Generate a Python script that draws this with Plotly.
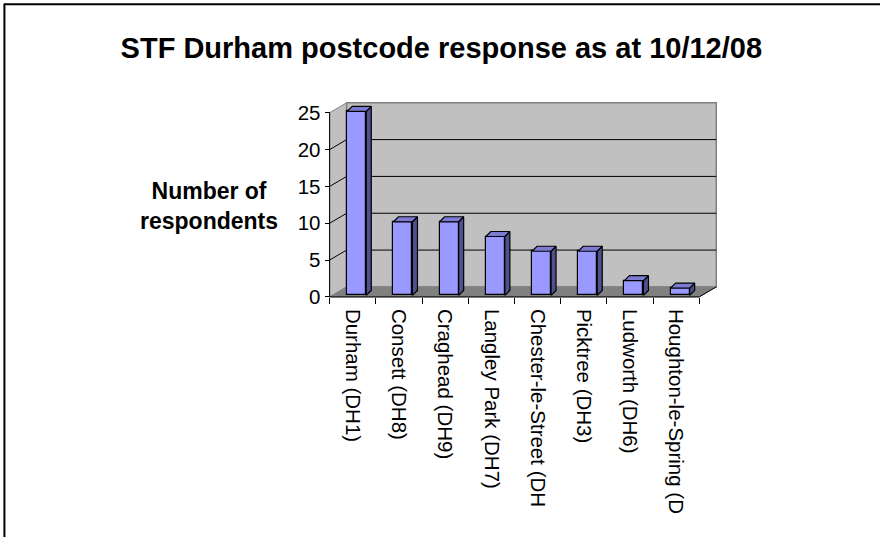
import plotly.graph_objects as go

# ---- data ----
categories = ["Durham (DH1)", "Consett (DH8)", "Craghead (DH9)", "Langley Park (DH7)",
              "Chester-le-Street (DH", "Picktree (DH3)", "Ludworth (DH6)", "Houghton-le-Spring (D"]
respondents = [25, 10, 10, 8, 6, 6, 2, 1]
y_ticks = [0, 5, 10, 15, 20, 25]
title_text = "STF Durham postcode response as at 10/12/08"
y_title = "Number of<br>respondents"

# ---- geometry (pixel scale) ----
W, H = 880, 537
KX, KY = 46.1, 7.36          # px per unit
XR = (-0.6, 7.95)
YR = (-0.15, 26.6)
X0_PX, Y0_PX = 330, 297      # pixel of (x=-0.5, y=0)
ML = X0_PX - (-0.5 - XR[0]) * KX
PB = Y0_PX + (0 - YR[0]) * KY
PW = (XR[1] - XR[0]) * KX
PH = (YR[1] - YR[0]) * KY
MR = W - ML - PW
MT = PB - PH
MB = H - PB

n = len(categories)
xl, xr = -0.5, n - 0.5
ymax = y_ticks[-1]
DXD, DYD = 17 / KX, 10 / KY   # wall depth
OFF, BW = 4 / KX, 19 / KX     # bar x offset & width
DXB, DYB = 5 / KX, 5 / KY     # bar depth
B0 = 0.2

FONT = "Liberation Sans, Arial, sans-serif"

def poly(pts):
    return "M " + " L ".join(f"{x},{y}" for x, y in pts) + " Z"

shapes = []
# side wall
shapes.append(dict(type="path", xref="x", yref="y", layer="below",
                   path=poly([(xl, 0), (xl, ymax), (xl + DXD, ymax + DYD), (xl + DXD, DYD)]),
                   fillcolor="#C0C0C0", line=dict(color="#808080", width=1)))
# back wall
shapes.append(dict(type="path", xref="x", yref="y", layer="below",
                   path=poly([(xl + DXD, DYD), (xr + DXD, DYD), (xr + DXD, ymax + DYD), (xl + DXD, ymax + DYD)]),
                   fillcolor="#C0C0C0", line=dict(color="#808080", width=1.5)))
# floor
shapes.append(dict(type="path", xref="x", yref="y", layer="below",
                   path=poly([(xl, 0), (xr, 0), (xr + DXD, DYD), (xl + DXD, DYD)]),
                   fillcolor="#808080", line=dict(color="#808080", width=1)))
# gridlines
for t in y_ticks[1:-1]:
    shapes.append(dict(type="line", xref="x", yref="y", layer="below",
                       x0=xl + DXD, x1=xr + DXD, y0=t + DYD, y1=t + DYD,
                       line=dict(color="#000000", width=1)))
    shapes.append(dict(type="line", xref="x", yref="y", layer="below",
                       x0=xl, x1=xl + DXD, y0=t, y1=t + DYD,
                       line=dict(color="#000000", width=1)))
# axis lines
shapes.append(dict(type="line", xref="x", yref="y", layer="below",
                   x0=xl, x1=xl, y0=0, y1=ymax, line=dict(color="#000000", width=1)))
shapes.append(dict(type="line", xref="x", yref="y", layer="below",
                   x0=xl, x1=xr, y0=0, y1=0, line=dict(color="#000000", width=1)))
shapes.append(dict(type="line", xref="x", yref="y", layer="below",
                   x0=xr, x1=xr + DXD, y0=0, y1=DYD, line=dict(color="#000000", width=1)))
# outer frame (top + left)
def pxx(px):
    return (px - ML) / PW
def pxy(py):
    return (PB - py) / PH
shapes.append(dict(type="line", xref="paper", yref="paper",
                   x0=pxx(5.5), x1=pxx(5.5), y0=pxy(4), y1=pxy(540), line=dict(color="#000", width=2)))
shapes.append(dict(type="line", xref="paper", yref="paper",
                   x0=pxx(5), x1=pxx(885), y0=pxy(4.5), y1=pxy(4.5), line=dict(color="#000", width=2)))

fig = go.Figure()

xs = [i + OFF for i in range(n)]
fig.add_trace(go.Bar(x=xs, y=respondents, base=[B0] * n, width=[BW] * n,
                     marker=dict(color="#9999FF", line=dict(color="#000000", width=1.2)),
                     hoverinfo="skip", showlegend=False))

side_x, side_y, top_x, top_y = [], [], [], []
for x, v in zip(xs, respondents):
    l, r = x - BW / 2, x + BW / 2
    top = B0 + v
    side_x += [r, r + DXB, r + DXB, r, r, None]
    side_y += [B0, B0 + DYB, top + DYB, top, B0, None]
    top_x += [l, l + DXB, r + DXB, r, l, None]
    top_y += [top, top + DYB, top + DYB, top, top, None]

fig.add_trace(go.Scatter(x=side_x, y=side_y, mode="lines", fill="toself",
                         fillcolor="#50508C", line=dict(color="#000000", width=1.2),
                         hoverinfo="skip", showlegend=False))
fig.add_trace(go.Scatter(x=top_x, y=top_y, mode="lines", fill="toself",
                         fillcolor="#7B7BD2", line=dict(color="#000000", width=1.2),
                         hoverinfo="skip", showlegend=False))

fig.update_layout(
    width=W, height=H,
    margin=dict(l=ML, r=MR, t=MT, b=MB, autoexpand=False),
    paper_bgcolor="white", plot_bgcolor="rgba(0,0,0,0)",
    shapes=shapes,
    bargap=0,
    font=dict(family=FONT, color="#000000"),
    title=dict(text=f"<b>{title_text}</b>", xref="container", x=0.5015, xanchor="center",
               yref="container", y=1 - 47.5 / H, yanchor="middle",
               font=dict(family=FONT, size=29, color="#000000")),
    xaxis=dict(range=list(XR), anchor="free", position=pxy(Y0_PX),
               tickmode="array", tickvals=list(range(n)), ticktext=categories,
               tickangle=90, ticks="", ticklabelstandoff=11,
               tickfont=dict(family=FONT, size=20.5, color="#000000"),
               minor=dict(tickmode="array", tickvals=[i - 0.5 for i in range(n + 1)],
                          ticks="outside", ticklen=6, tickcolor="#000000", tickwidth=1),
               showgrid=False, zeroline=False, showline=False, fixedrange=True),
    yaxis=dict(range=list(YR), anchor="free", position=pxx(X0_PX),
               tickmode="array", tickvals=y_ticks,
               ticks="outside", ticklen=5, tickcolor="#000000",
               tickfont=dict(family=FONT, size=20.5, color="#000000"),
               showgrid=False, zeroline=False, showline=False, fixedrange=True),
    annotations=[dict(text=f"<b>{y_title}</b>", xref="paper", yref="y",
                      x=pxx(210), y=12.3, xanchor="center", yanchor="middle",
                      showarrow=False, align="center",
                      font=dict(family=FONT, size=23, color="#000000"))],
)

fig.write_html("out.html")
